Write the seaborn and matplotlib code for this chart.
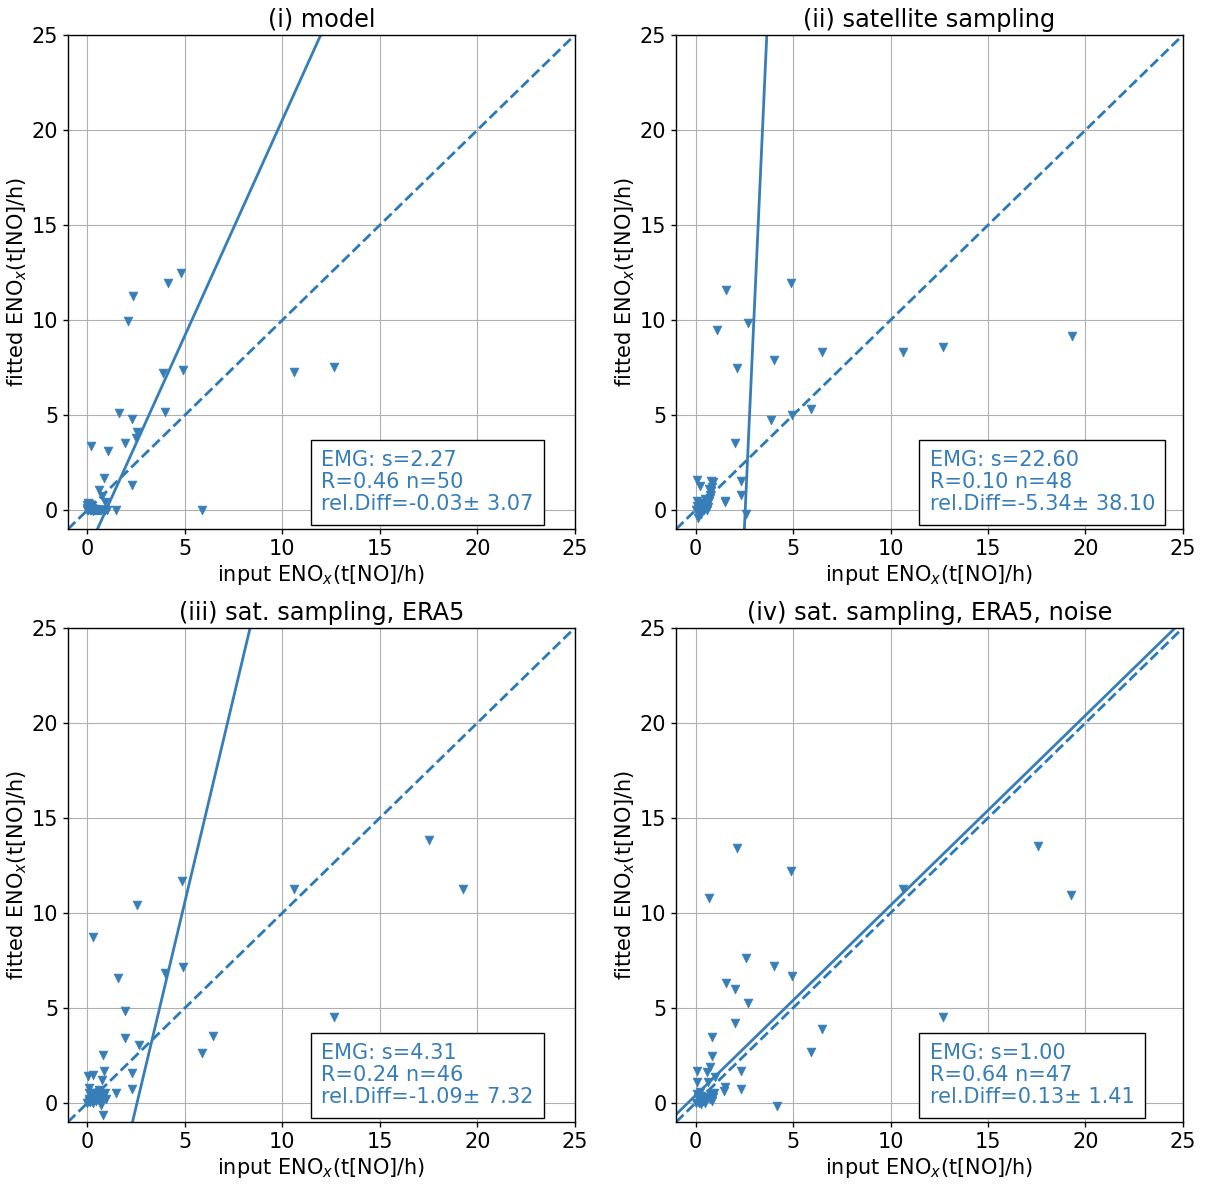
import numpy as np
import pandas as pd
import matplotlib
matplotlib.use("Agg")
import matplotlib.pyplot as plt
import seaborn as sns

# panel titles and fit results
titles = ["(i) model", "(ii) satellite sampling", "(iii) sat. sampling, ERA5", "(iv) sat. sampling, ERA5, noise"]
slopes = [2.27, 22.60, 4.31, 1.00]
intercepts = [-2.16, -57.5, -10.96, 0.40]
box_texts = [
    "EMG: s=2.27\nR=0.46 n=50\nrel.Diff=-0.03\u00b1 3.07",
    "EMG: s=22.60\nR=0.10 n=48\nrel.Diff=-5.34\u00b1 38.10",
    "EMG: s=4.31\nR=0.24 n=46\nrel.Diff=-1.09\u00b1 7.32",
    "EMG: s=1.00\nR=0.64 n=47\nrel.Diff=0.13\u00b1 1.41",
]

# (i) model
x1 = [4.8, 4.12, 2.32, 2.07, 3.86, 4.89, 10.58, 12.67, 1.6, 4.0, 2.27, 2.55, 2.5, 0.19, 1.95, 1.04,
      0.84, 2.27, 0.58, 0.75, 0.9, 1.44, 5.88,
      0.0, 0.0, 0.02, 0.05, 0.1, 0.12, 0.15, 0.19, 0.2, 0.27, 0.3, 0.35, 0.41, 0.45, 0.5, 0.53, 0.6,
      0.65, 0.7, 0.78, 0.85, 0.91, 1.0, 0.0, 0.08, 0.25, 0.4]
y1 = [12.5, 11.96, 11.26, 9.95, 7.23, 7.37, 7.26, 7.54, 5.12, 5.16, 4.79, 4.12, 3.77, 3.37, 3.54, 3.1,
      1.67, 1.32, 1.05, 0.74, 0.44, 0.02, 0.02,
      0.0, 0.1, 0.35, 0.0, 0.15, 0.0, 0.0, 0.26, 0.0, -0.05, 0.0, 0.0, 0.0, 0.0, 0.0, 0.0, 0.0,
      0.0, 0.0, 0.0, 0.0, 0.0, 0.0, 0.25, 0.3, 0.12, 0.05]

# (ii) satellite sampling
x2 = [1.54, 4.87, 2.68, 1.09, 6.48, 10.63, 12.67, 19.33, 4.02, 2.12, 5.93, 4.96, 3.88, 2.03, 2.31, 2.31,
      1.49, 2.56,
      0.06, 0.22, 0.79, 0.87, 0.67, 0.79, 0.06, 0.2, 0.36, 0.53, 0.67, 0.56, 0.12, 0.28, 0.44, 0.72,
      0.0, 0.1, 0.15, 0.3, 0.45, 0.6, 0.75, 0.85, 0.5, 0.05, 0.25, 0.4, 0.62, 1.52]
y2 = [11.58, 11.96, 9.82, 9.47, 8.33, 8.33, 8.58, 9.16, 7.89, 7.46, 5.32, 5.0, 4.74, 3.54, 1.54, 0.79,
      0.49, -0.18,
      1.56, 1.25, 1.54, 1.5, 1.1, 1.0, 0.5, 0.1, 0.14, 0.2, 0.47, 0.02, -0.4, -0.21, 0.0, 0.65,
      0.0, 0.05, -0.1, 0.3, 0.35, 0.3, 0.8, 1.2, 0.6, 0.2, 0.0, 0.25, 0.15, 0.45]

# (iii) sat. sampling, ERA5
x3 = [4.84, 10.58, 2.53, 0.27, 4.89, 4.0, 1.56, 1.95, 12.67, 6.46, 1.95, 2.63, 5.86, 0.79, 0.87, 2.27,
      0.02, 0.31, 0.75, 2.27, 1.44, 17.54, 19.28, 0.82,
      0.07, 0.07, 0.41, 0.61, 0.7, 0.96, 0.27, 0.07, 0.48, 0.7, 0.0, 0.15, 0.2, 0.35, 0.55, 0.65,
      0.8, 0.1, 0.3, 0.45, 0.58, 0.9]
y3 = [11.68, 11.26, 10.42, 8.75, 7.18, 6.86, 6.56, 4.84, 4.54, 3.53, 3.4, 3.05, 2.65, 2.53, 1.7, 1.6,
      1.42, 1.47, 1.21, 0.75, 0.54, 13.84, 11.26, -0.63,
      0.77, 0.5, 0.51, 0.6, 0.37, 0.19, 0.16, 0.2, 0.25, -0.1, 0.0, 0.05, 0.3, 0.4, 0.45, 0.2,
      0.3, 0.1, 0.0, 0.1, 0.7, 0.5]

# (iv) sat. sampling, ERA5, noise
x4 = [2.12, 4.87, 0.67, 10.63, 2.58, 4.02, 4.94, 1.56, 2.02, 2.68, 2.02, 6.48, 5.93, 0.84, 0.84, 0.72,
      0.07, 0.58, 2.31, 0.97, 0.07, 0.63, 1.49, 1.44, 2.31, 4.17, 17.54, 19.28, 12.67,
      0.07, 0.2, 0.72, 0.87, 0.36, 0.53, 0.15, 0.84, 0.28, 0.0, 0.1, 0.45, 0.6, 0.75, 0.25, 0.5,
      0.95, 0.4]
y4 = [13.44, 12.23, 10.81, 11.25, 7.65, 7.23, 6.7, 6.3, 5.98, 5.28, 4.23, 3.89, 2.7, 3.49, 2.49, 1.91,
      1.7, 1.65, 1.7, 1.35, 1.09, 1.09, 0.83, 0.65, 0.72, -0.14, 13.53, 10.95, 4.53,
      0.45, 0.58, 0.45, 0.33, 0.2, 0.14, 0.02, 0.1, -0.07, 0.0, 0.25, 0.3, 0.25, 0.2, 0.35, 0.0,
      0.5, 0.1]

xs = [x1, x2, x3, x4]
ys = [y1, y2, y3, y4]

col = "#377eb8"
dash_col = "#2a7ab9"

sns.set_style("ticks")
plt.rcParams["font.family"] = ["DejaVu Sans"]
plt.rcParams["text.color"] = "black"
plt.rcParams["axes.labelcolor"] = "black"

fig, axes = plt.subplots(2, 2, figsize=(12.05, 11.84), dpi=100)
fig.subplots_adjust(left=0.0564, right=0.9817, top=0.9704, bottom=0.0524, wspace=0.2, hspace=0.2)

for i, ax in enumerate(axes.flat):
    df = pd.DataFrame({"x": xs[i], "y": ys[i]})
    sns.scatterplot(data=df, x="x", y="y", ax=ax, marker="v", color=col, s=40,
                    edgecolor=col, linewidth=0.5, zorder=3)
    # 1:1 line and fitted line
    ax.axline((0, 0), slope=1, color=dash_col, ls="--", lw=2, zorder=2)
    ax.axline((0, intercepts[i]), slope=slopes[i], color=col, lw=2, zorder=2)
    ax.set_xlim(-1, 25)
    ax.set_ylim(-1, 25)
    ax.set_xticks([0, 5, 10, 15, 20, 25])
    ax.set_yticks([0, 5, 10, 15, 20, 25])
    ax.grid(True, color="#b0b0b0", lw=0.8)
    ax.set_axisbelow(True)
    ax.tick_params(labelsize=15, length=3.5, pad=3.5, width=1, colors="black")
    for sp in ax.spines.values():
        sp.set_color("black")
        sp.set_linewidth(1)
    ax.set_title(titles[i], fontsize=17.3, color="black")
    ax.set_xlabel("input ENO$_x$(t[NO]/h)", fontsize=15, labelpad=3, color="black")
    ax.set_ylabel("fitted ENO$_x$(t[NO]/h)", fontsize=15, labelpad=2, color="black")
    ax.text(12.0, -0.22, box_texts[i], fontsize=15, color=col, va="bottom", ha="left",
            linespacing=1.12, zorder=5,
            bbox=dict(boxstyle="square,pad=0.5", facecolor="white", edgecolor="black", lw=1))

plt.savefig("out.png", dpi=100)
